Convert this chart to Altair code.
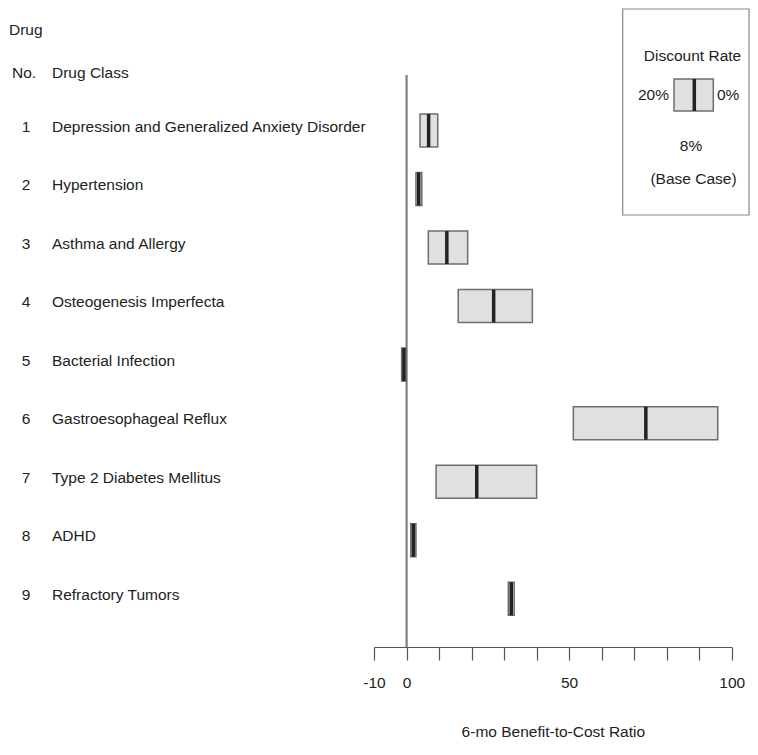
import altair as alt
import pandas as pd

# ---- data ----
drug_no = [1, 2, 3, 4, 5, 6, 7, 8, 9]
drug_class = [
    "Depression and Generalized Anxiety Disorder",
    "Hypertension",
    "Asthma and Allergy",
    "Osteogenesis Imperfecta",
    "Bacterial Infection",
    "Gastroesophageal Reflux",
    "Type 2 Diabetes Mellitus",
    "ADHD",
    "Refractory Tumors",
]
rate_20 = [4.15, 2.9, 6.7, 15.9, -1.5, 51.3, 9.1, 1.3, 31.3]   # 20% discount (low end)
rate_0 = [9.6, 4.7, 18.8, 38.7, -0.1, 95.7, 40.0, 2.9, 33.1]   # 0% discount (high end)
rate_8 = [6.8, 3.75, 12.4, 26.8, -0.8, 73.6, 21.6, 2.1, 32.2]  # 8% base case

tick_values = [-10, 0, 10, 20, 30, 40, 50, 60, 70, 80, 90, 100]
labeled_ticks = [-10, 0, 50, 100]

df = pd.DataFrame({
    "no": drug_no,
    "cls": drug_class,
    "lo": rate_20,
    "hi": rate_0,
    "base": rate_8,
    "no_txt": [str(n) for n in drug_no],
})

FONT = "Liberation Sans, Arial, Helvetica, sans-serif"
FS = 15.5
TXT = "#222222"

xscale = alt.Scale(domain=[-10, 100], range=[366, 723.7], nice=False, zero=False)
yscale = alt.Scale(domain=[1, 9], range=[117.5, 595.7], nice=False, zero=False)

label_expr = " || ".join([f"datum.value == {v}" for v in labeled_ticks])
xaxis = alt.Axis(
    values=tick_values,
    labelExpr=f"({label_expr}) ? toString(datum.value) : ''",
    title="6-mo Benefit-to-Cost Ratio",
    grid=False,
    tickSize=13,
    domainColor="#555555",
    tickColor="#555555",
    domainWidth=1.2,
    tickWidth=1.2,
    labelFont=FONT,
    labelFontSize=FS,
    labelColor=TXT,
    labelPadding=15,
    titleFont=FONT,
    titleFontSize=FS,
    titleFontWeight="normal",
    titleColor=TXT,
    titlePadding=34,
    labelFlush=False,
    labelOverlap=False,
)

base = alt.Chart(df)

bars = base.mark_bar(size=33, fill="#e0e0e0", stroke="#6e6e6e", strokeWidth=1.5).encode(
    x=alt.X("lo:Q", scale=xscale, axis=xaxis),
    x2="hi:Q",
    y=alt.Y("no:Q", scale=yscale, axis=None),
)

medians = base.mark_tick(orient="vertical", size=33, thickness=3.5, color="#222222", opacity=1).encode(
    x=alt.X("base:Q", scale=xscale),
    y=alt.Y("no:Q", scale=yscale),
)

zero_line = base.mark_rule(color="#808080", strokeWidth=1.2).encode(
    x=alt.datum(0, scale=xscale),
    y=alt.value(67),
    y2=alt.value(639),
)

num_text = base.mark_text(font=FONT, fontSize=FS, color=TXT, align="center", baseline="middle", dy=-4).encode(
    x=alt.value(18),
    y=alt.Y("no:Q", scale=yscale),
    text="no_txt:N",
)

cls_text = base.mark_text(font=FONT, fontSize=FS, color=TXT, align="left", baseline="middle", dy=-4).encode(
    x=alt.value(44),
    y=alt.Y("no:Q", scale=yscale),
    text="cls:N",
)

hdr = pd.DataFrame({"k": [0]})
hbase = alt.Chart(hdr)


def htext(txt, x, y, align="left", baseline="alphabetic"):
    return hbase.mark_text(font=FONT, fontSize=FS, color=TXT, align=align, baseline=baseline).encode(
        x=alt.value(x), y=alt.value(y), text=alt.value(txt)
    )


headers = [
    htext("Drug", 1, 27),
    htext("No.", 4, 70),
    htext("Drug Class", 44, 70),
]

# legend box
legend_box = hbase.mark_rect(fill="white", stroke="#888888", strokeWidth=1.2).encode(
    x=alt.value(614.7), x2=alt.value(741), y=alt.value(1), y2=alt.value(207)
)
legend_glyph = hbase.mark_rect(fill="#e0e0e0", stroke="#6e6e6e", strokeWidth=1.5).encode(
    x=alt.value(666), x2=alt.value(705.3), y=alt.value(71), y2=alt.value(103)
)
legend_med = hbase.mark_rule(color="#222222", strokeWidth=3.5).encode(
    x=alt.value(686.3), y=alt.value(71), y2=alt.value(103)
)
legend_texts = [
    htext("Discount Rate", 684.5, 48, align="center", baseline="middle"),
    htext("20%", 661, 87, align="right", baseline="middle"),
    htext("0%", 709, 87, align="left", baseline="middle"),
    htext("8%", 683, 138, align="center", baseline="middle"),
    htext("(Base Case)", 685.5, 171, align="center", baseline="middle"),
]

chart = alt.layer(
    zero_line, bars, medians, num_text, cls_text, *headers,
    legend_box, legend_glyph, legend_med, *legend_texts,
).properties(
    width=742,
    height=639,
    padding={"left": 0, "top": 0, "right": 0, "bottom": 95},
    autosize=alt.AutoSizeParams(type="none"),
    background="white",
).configure_view(strokeWidth=0, stroke="transparent")

chart.save("out.html", embed_options={"renderer": "svg", "actions": False})
